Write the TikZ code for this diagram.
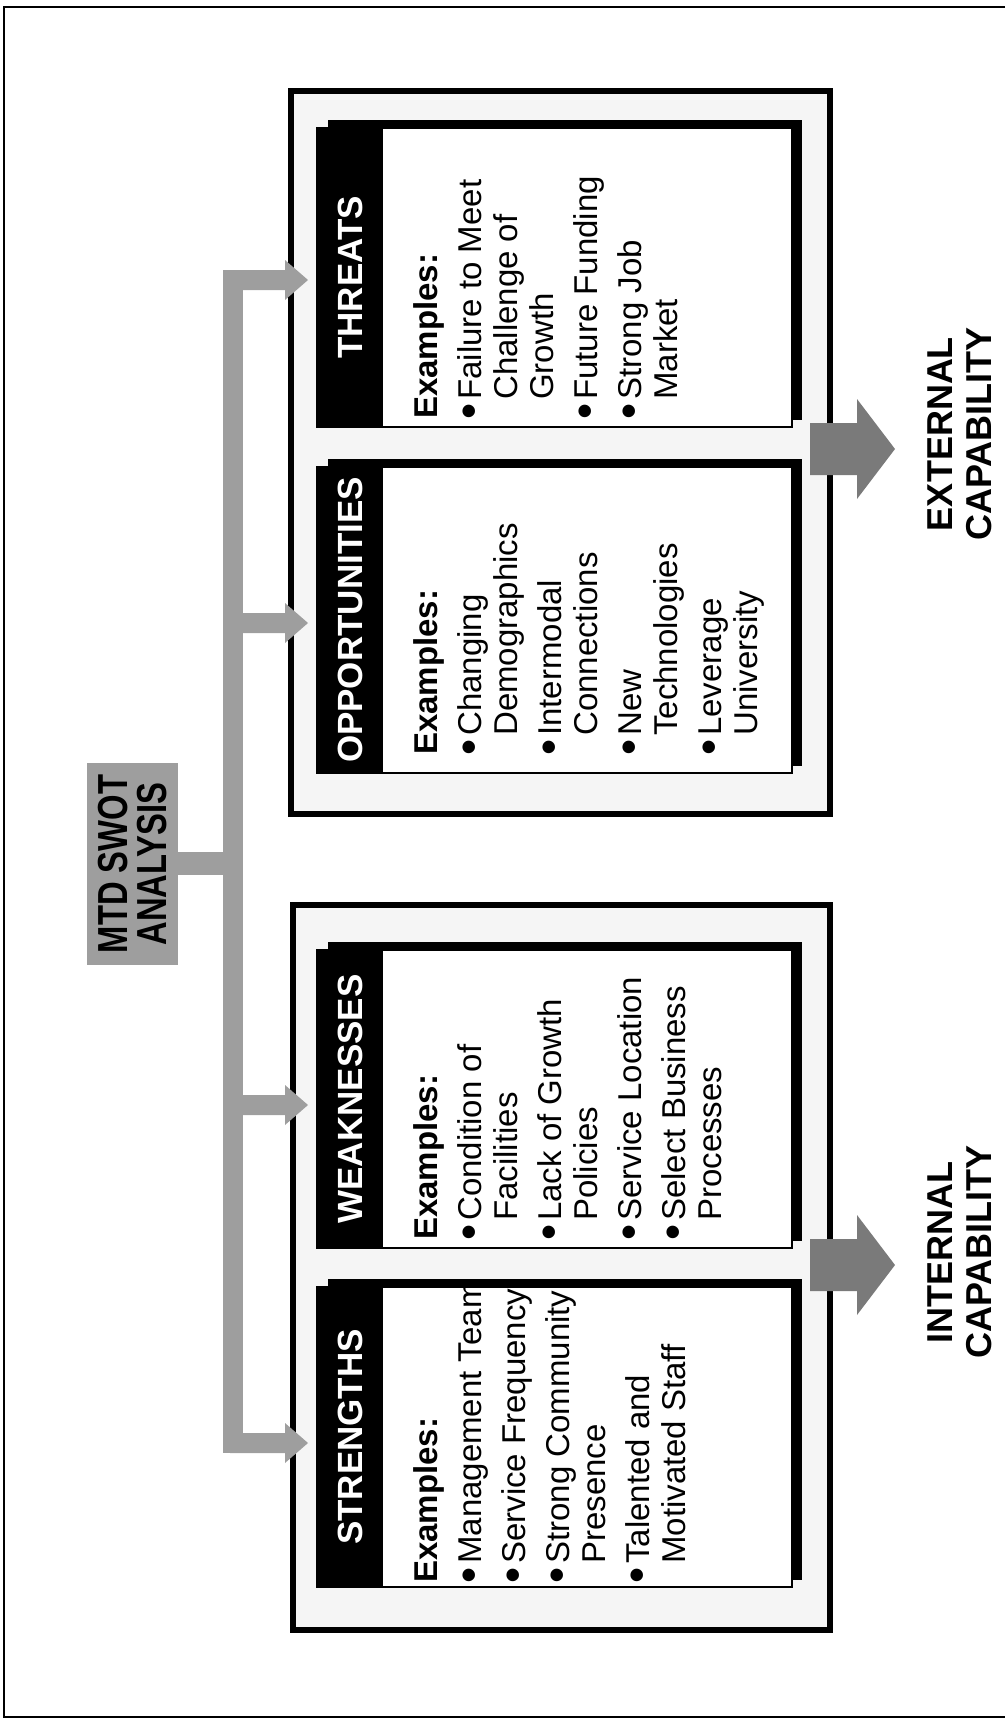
\documentclass[tikz,border=0pt]{standalone}
\usepackage{fontspec}
\setmainfont{Liberation Sans}
\usepackage{graphicx}
\newcommand\swbul{\makebox[19pt][l]{\hspace{-1pt}\raisebox{-3pt}{\scalebox{1.4}{\textbullet}}}}
\newcommand\swind{\hspace*{19pt}}
\newcommand\swotcard[6]{%
  \fill[shadowfill] (328,#2-8) rectangle (802,#3-7);
  \filldraw[cardbody] (317,#2) rectangle (792,#3);
  \fill[headerfill] (317,#2) rectangle (383,#3);
  \node[titletext] (#1t) at (350,{(#2+#3)/2}) {#4};
  \node[bodytext] (#1b) at (412,#5) {\begin{tabular}{@{}l@{}}#6\end{tabular}};
}
\newcommand\brancharrow[1]{%
  \fill[conn] (230,#1-10) -- (285,#1-10) -- (285,#1-20) -- (308,#1) -- (285,#1+20) -- (285,#1+10) -- (230,#1+10) -- cycle;
}
\newcommand\capabilityarrow[1]{%
  \fill[bigarrow] (810,#1-26) -- (857,#1-26) -- (857,#1-50) -- (895,#1) -- (857,#1+50) -- (857,#1+26) -- (810,#1+26) -- cycle;
}
\begin{document}
\begin{tikzpicture}[x=1pt,y=-1pt,
  conn/.style={fill=black!38},
  bigarrow/.style={fill=black!52},
  grpbox/.style={draw=black,line width=6pt,fill=black!4},
  cardbody/.style={draw=black,line width=1.2pt,fill=white},
  shadowfill/.style={fill=black},
  headerfill/.style={fill=black},
  titletext/.style={rotate=90,text=white,inner sep=0pt,font=\fontsize{35}{35}\selectfont\bfseries},
  bodytext/.style={rotate=90,anchor=north west,inner sep=0pt,font=\fontsize{33}{36}\selectfont},
  labeltext/.style={rotate=90,align=center,inner sep=0pt,font=\fontsize{36}{39}\selectfont\bfseries},
  mtdbox/.style={fill=black!38,rotate=90,align=center,inner sep=0pt,minimum width=202pt,minimum height=91pt,font=\fontsize{42}{39}\selectfont\bfseries},
  frameline/.style={line width=2.5pt}
]
\useasboundingbox (0,0) rectangle (1005,1722);
% page frame
\draw[frameline] (1005,7) -- (4,7) -- (4,1717) -- (1005,1717);
% group boxes
\draw[grpbox] (291,91) rectangle (830,814);
\draw[grpbox] (293,905) rectangle (830,1630);
% cards
\swotcard{T}{128}{427}{THREATS}{419}{%
  \textbf{Examples:}\\[8pt]
  \swbul Failure to Meet\\ \swind Challenge of\\ \swind Growth\\[8pt]
  \swbul Future Funding\\[8pt]
  \swbul Strong Job\\ \swind Market}
\swotcard{O}{467}{773}{OPPORTUNITIES}{755}{%
  \textbf{Examples:}\\[8pt]
  \swbul Changing\\ \swind Demographics\\[8pt]
  \swbul Intermodal\\ \swind Connections\\[8pt]
  \swbul New\\ \swind Technologies\\[8pt]
  \swbul Leverage\\ \swind University}
\swotcard{W}{950}{1248}{WEAKNESSES}{1240}{%
  \textbf{Examples:}\\[8pt]
  \swbul Condition of\\ \swind Facilities\\[8pt]
  \swbul Lack of Growth\\ \swind Policies\\[8pt]
  \swbul Service Location\\[8pt]
  \swbul Select Business\\ \swind Processes}
\swotcard{S}{1287}{1587}{STRENGTHS}{1583}{%
  \textbf{Examples:}\\[8pt]
  \swbul Management Team\\[8pt]
  \swbul Service Frequency\\[8pt]
  \swbul Strong Community\\ \swind Presence\\[8pt]
  \swbul Talented and\\ \swind Motivated Staff}
% tree of connectors
\fill[conn] (223,270) rectangle (243,1453);
\brancharrow{280}
\brancharrow{623}
\brancharrow{1105}
\brancharrow{1443}
\fill[conn] (170,852) rectangle (230,875);
\node[mtdbox] (mtd) at (132.5,864) {\scalebox{0.78}[1]{MTD SWOT}\\\scalebox{0.78}[1]{ANALYSIS}};
% capability arrows and labels
\capabilityarrow{449}
\capabilityarrow{1265}
\node[labeltext] (ext) at (960,434) {EXTERNAL\\CAPABILITY};
\node[labeltext] (int) at (960,1252) {INTERNAL\\CAPABILITY};
\end{tikzpicture}
\end{document}
